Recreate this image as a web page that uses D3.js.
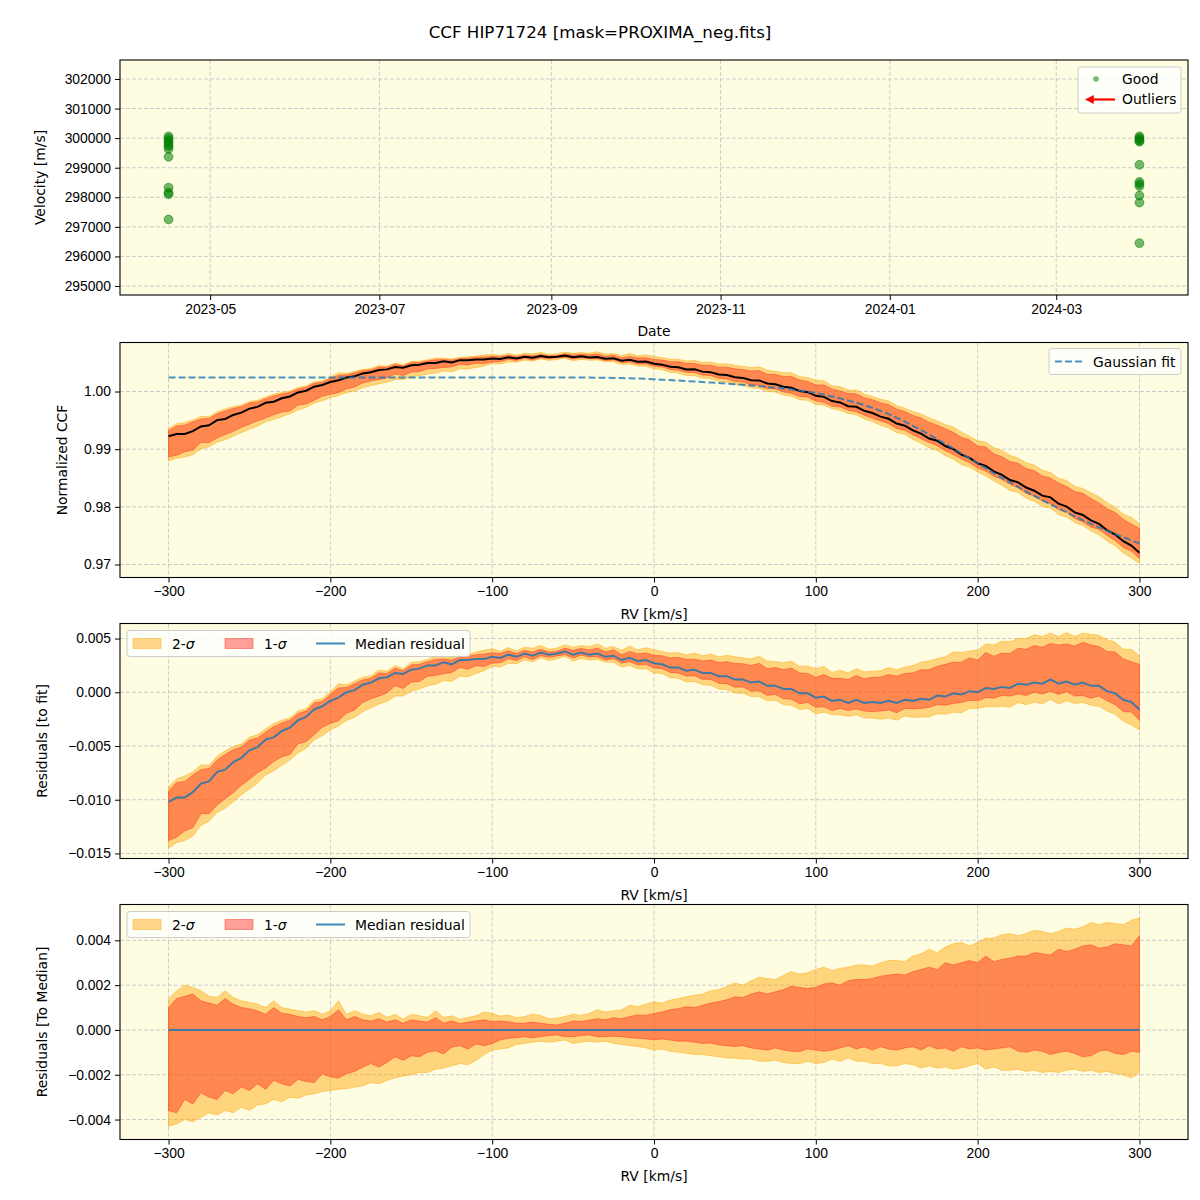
<!DOCTYPE html>
<html>
<head>
<meta charset="utf-8">
<script src="https://cdn.jsdelivr.net/npm/d3@7"></script>
<style>
  body { margin: 0; background: #fff; }
  svg { font-family: "DejaVu Sans", sans-serif; }
  .grid line { stroke: #cccccc; stroke-width: 1; stroke-dasharray: 4,2; }
  .axis path, .axis line { stroke: #000; }
  .axis text { font-size: 13.9px; fill: #000; }
</style>
</head>
<body>
<div class="chart"></div>
<script>
// ---- top panel: velocities per epoch ----
var epochDates = ['2023-04-16', '2024-03-31'];
var velLeft  = [300060, 299990, 299920, 299860, 299790, 299720, 299640, 299370, 298330, 298160, 298100, 297250];
var velRight = [300060, 300010, 299960, 299910, 299880, 299100, 298520, 298450, 298380, 298060, 297820, 296450];
var dateTicks = ['2023-05', '2023-07', '2023-09', '2023-11', '2024-01', '2024-03'];
var velTicks = [295000, 296000, 297000, 298000, 299000, 300000, 301000, 302000];

// ---- RV grid, km/s ----
var rv = d3.range(-300, 301, 5);

// gaussian fit (dashed)
var gaussFit = [
  1.00244, 1.00244, 1.00244, 1.00244, 1.00244, 1.00244, 1.00244, 1.00244, 1.00244, 1.00244,
  1.00244, 1.00244, 1.00244, 1.00244, 1.00244, 1.00244, 1.00244, 1.00244, 1.00244, 1.00244,
  1.00244, 1.00244, 1.00244, 1.00244, 1.00244, 1.00244, 1.00244, 1.00244, 1.00244, 1.00244,
  1.00244, 1.00244, 1.00244, 1.00244, 1.00244, 1.00244, 1.00244, 1.00244, 1.00244, 1.00244,
  1.00244, 1.00244, 1.00244, 1.00244, 1.00244, 1.00244, 1.00244, 1.00244, 1.00244, 1.00244,
  1.00243, 1.00242, 1.00241, 1.00240, 1.00238, 1.00236, 1.00233, 1.00229, 1.00225, 1.00219,
  1.00213, 1.00206, 1.00198, 1.00190, 1.00182, 1.00174, 1.00165, 1.00156, 1.00147, 1.00137,
  1.00127, 1.00116, 1.00105, 1.00093, 1.00080, 1.00066, 1.00052, 1.00036, 1.00018, 0.99998,
  0.99975, 0.99947, 0.99915, 0.99881, 0.99845, 0.99806, 0.99765, 0.99717, 0.99665, 0.99607,
  0.99545, 0.99477, 0.99405, 0.99331, 0.99255, 0.99176, 0.99095, 0.99011, 0.98925, 0.98840,
  0.98755, 0.98670, 0.98585, 0.98504, 0.98425, 0.98345, 0.98265, 0.98189, 0.98115, 0.98045,
  0.97975, 0.97904, 0.97835, 0.97769, 0.97705, 0.97644, 0.97585, 0.97529, 0.97475, 0.97419,
  0.97365
];

// median residual to the fit
var residMedian = [
  -0.0102, -0.0098, -0.0098, -0.0093, -0.0085, -0.0083, -0.0074, -0.0072, -0.0065, -0.0061,
  -0.0054, -0.0051, -0.0044, -0.0042, -0.0036, -0.0033, -0.0026, -0.0023, -0.0016, -0.0013,
  -0.0008, -0.0005, 0.0000, 0.0002, 0.0007, 0.0009, 0.0013, 0.0014, 0.0018, 0.0017,
  0.0021, 0.0022, 0.0025, 0.0025, 0.0028, 0.0026, 0.0030, 0.0030, 0.0031, 0.0031,
  0.0033, 0.0032, 0.0035, 0.0033, 0.0036, 0.0034, 0.0037, 0.0035, 0.0036, 0.0038,
  0.0035, 0.0037, 0.0035, 0.0036, 0.0033, 0.0034, 0.0030, 0.0032, 0.0029, 0.0030,
  0.0027, 0.0026, 0.0023, 0.0023, 0.0020, 0.0021, 0.0018, 0.0018, 0.0015, 0.0015,
  0.0012, 0.0012, 0.0009, 0.0010, 0.0006, 0.0006, 0.0003, 0.0003, -0.0001, -0.0001,
  -0.0005, -0.0004, -0.0008, -0.0007, -0.0010, -0.0007, -0.0010, -0.0009, -0.0010, -0.0008,
  -0.0010, -0.0007, -0.0008, -0.0006, -0.0007, -0.0003, -0.0004, -0.0001, -0.0002, 0.0001,
  0.0000, 0.0004, 0.0003, 0.0005, 0.0004, 0.0008, 0.0007, 0.0009, 0.0008, 0.0012,
  0.0008, 0.0010, 0.0007, 0.0009, 0.0006, 0.0006, 0.0001, -0.0001, -0.0007, -0.0009,
  -0.0016
];

// spread around the median (bottom panel)
var sig2Hi = [
  0.00138, 0.00175, 0.00200, 0.00190, 0.00175, 0.00150, 0.00145, 0.00175, 0.00145, 0.00130,
  0.00123, 0.00115, 0.00100, 0.00130, 0.00100, 0.00093, 0.00086, 0.00080, 0.00086, 0.00070,
  0.00086, 0.00130, 0.00070, 0.00086, 0.00070, 0.00063, 0.00078, 0.00056, 0.00070, 0.00048,
  0.00070, 0.00063, 0.00056, 0.00086, 0.00056, 0.00063, 0.00048, 0.00056, 0.00063, 0.00080,
  0.00074, 0.00062, 0.00067, 0.00055, 0.00060, 0.00070, 0.00065, 0.00050, 0.00052, 0.00060,
  0.00070, 0.00065, 0.00074, 0.00090, 0.00080, 0.00085, 0.00090, 0.00110, 0.00104, 0.00115,
  0.00126, 0.00120, 0.00133, 0.00140, 0.00148, 0.00155, 0.00160, 0.00175, 0.00180, 0.00195,
  0.00210, 0.00200, 0.00220, 0.00235, 0.00230, 0.00225, 0.00244, 0.00260, 0.00250, 0.00255,
  0.00270, 0.00280, 0.00265, 0.00275, 0.00280, 0.00290, 0.00290, 0.00285, 0.00300, 0.00310,
  0.00310, 0.00305, 0.00330, 0.00340, 0.00360, 0.00345, 0.00370, 0.00385, 0.00390, 0.00375,
  0.00390, 0.00410, 0.00410, 0.00425, 0.00430, 0.00420, 0.00430, 0.00445, 0.00440, 0.00430,
  0.00440, 0.00455, 0.00450, 0.00460, 0.00480, 0.00470, 0.00480, 0.00475, 0.00470, 0.00490,
  0.00500
];
var sig1Hi = [
  0.00100, 0.00140, 0.00150, 0.00160, 0.00130, 0.00120, 0.00110, 0.00140, 0.00115, 0.00100,
  0.00095, 0.00085, 0.00070, 0.00100, 0.00075, 0.00070, 0.00060, 0.00055, 0.00060, 0.00045,
  0.00060, 0.00090, 0.00045, 0.00060, 0.00045, 0.00040, 0.00050, 0.00035, 0.00045, 0.00030,
  0.00045, 0.00040, 0.00035, 0.00055, 0.00030, 0.00040, 0.00028, 0.00035, 0.00040, 0.00045,
  0.00037, 0.00040, 0.00037, 0.00030, 0.00030, 0.00035, 0.00030, 0.00025, 0.00022, 0.00030,
  0.00040, 0.00038, 0.00044, 0.00050, 0.00045, 0.00055, 0.00050, 0.00060, 0.00067, 0.00065,
  0.00074, 0.00080, 0.00090, 0.00095, 0.00104, 0.00100, 0.00110, 0.00120, 0.00126, 0.00135,
  0.00148, 0.00145, 0.00160, 0.00170, 0.00160, 0.00170, 0.00180, 0.00195, 0.00190, 0.00185,
  0.00190, 0.00205, 0.00210, 0.00200, 0.00220, 0.00225, 0.00225, 0.00230, 0.00240, 0.00245,
  0.00250, 0.00245, 0.00260, 0.00270, 0.00280, 0.00270, 0.00300, 0.00290, 0.00300, 0.00310,
  0.00300, 0.00330, 0.00305, 0.00315, 0.00320, 0.00330, 0.00330, 0.00345, 0.00340, 0.00335,
  0.00360, 0.00350, 0.00360, 0.00375, 0.00380, 0.00365, 0.00370, 0.00385, 0.00380, 0.00375,
  0.00420
];
var sig1Lo = [
  -0.00360, -0.00370, -0.00310, -0.00330, -0.00280, -0.00300, -0.00310, -0.00270, -0.00285, -0.00255,
  -0.00270, -0.00240, -0.00265, -0.00225, -0.00240, -0.00250, -0.00220, -0.00230, -0.00235, -0.00196,
  -0.00210, -0.00215, -0.00196, -0.00185, -0.00166, -0.00150, -0.00166, -0.00145, -0.00120, -0.00135,
  -0.00115, -0.00120, -0.00100, -0.00093, -0.00107, -0.00077, -0.00070, -0.00085, -0.00063, -0.00070,
  -0.00060, -0.00045, -0.00037, -0.00035, -0.00030, -0.00035, -0.00030, -0.00025, -0.00022, -0.00030,
  -0.00030, -0.00025, -0.00022, -0.00030, -0.00030, -0.00028, -0.00030, -0.00035, -0.00037, -0.00040,
  -0.00044, -0.00040, -0.00045, -0.00050, -0.00050, -0.00055, -0.00060, -0.00058, -0.00067, -0.00070,
  -0.00074, -0.00070, -0.00080, -0.00085, -0.00090, -0.00080, -0.00090, -0.00095, -0.00096, -0.00085,
  -0.00090, -0.00095, -0.00090, -0.00080, -0.00070, -0.00085, -0.00075, -0.00090, -0.00075, -0.00085,
  -0.00090, -0.00080, -0.00075, -0.00090, -0.00070, -0.00085, -0.00080, -0.00095, -0.00075, -0.00085,
  -0.00080, -0.00090, -0.00085, -0.00080, -0.00075, -0.00095, -0.00100, -0.00090, -0.00095, -0.00110,
  -0.00100, -0.00095, -0.00105, -0.00120, -0.00115, -0.00095, -0.00090, -0.00105, -0.00110, -0.00095,
  -0.00100
];
var sig2Lo = [
  -0.00430, -0.00420, -0.00400, -0.00410, -0.00390, -0.00370, -0.00380, -0.00360, -0.00370, -0.00345,
  -0.00360, -0.00335, -0.00330, -0.00310, -0.00320, -0.00300, -0.00305, -0.00290, -0.00285, -0.00275,
  -0.00270, -0.00265, -0.00262, -0.00255, -0.00250, -0.00235, -0.00240, -0.00225, -0.00215, -0.00205,
  -0.00200, -0.00190, -0.00190, -0.00175, -0.00170, -0.00160, -0.00150, -0.00155, -0.00136, -0.00110,
  -0.00090, -0.00085, -0.00080, -0.00065, -0.00060, -0.00055, -0.00050, -0.00055, -0.00050, -0.00045,
  -0.00060, -0.00055, -0.00050, -0.00055, -0.00050, -0.00060, -0.00065, -0.00070, -0.00074, -0.00080,
  -0.00090, -0.00085, -0.00095, -0.00100, -0.00104, -0.00110, -0.00110, -0.00115, -0.00120, -0.00125,
  -0.00126, -0.00130, -0.00130, -0.00140, -0.00140, -0.00135, -0.00145, -0.00150, -0.00150, -0.00140,
  -0.00150, -0.00145, -0.00130, -0.00140, -0.00125, -0.00140, -0.00140, -0.00150, -0.00150, -0.00160,
  -0.00160, -0.00150, -0.00155, -0.00170, -0.00160, -0.00170, -0.00165, -0.00175, -0.00170, -0.00160,
  -0.00150, -0.00175, -0.00165, -0.00180, -0.00180, -0.00175, -0.00185, -0.00180, -0.00190, -0.00185,
  -0.00190, -0.00180, -0.00175, -0.00185, -0.00180, -0.00190, -0.00185, -0.00195, -0.00200, -0.00215,
  -0.00190
];

var rvTicks = [-300, -200, -100, 0, 100, 200, 300];

function init() {
  var width = 1200,
      height = 1200,
      plot = { x1: 120, x2: 1188 },
      panelTops = [60, 342.5, 623.5, 904.5],
      panelH = 235,
      colors = {
        bg: '#fefde2',
        sig2: '#ffa500',
        sig1: '#ff2a1a',
        good: 'green',
        blue: '#1f77b4'
      };

  var svg = d3.select('.chart')
    .append('svg')
      .attr('width', width)
      .attr('height', height);

  svg.append('text')
    .attr('x', 600)
    .attr('y', 38)
    .attr('text-anchor', 'middle')
    .style('font-size', '16.7px')
    .text('CCF HIP71724 [mask=PROXIMA_neg.fits]');

  var defs = svg.append('defs');
  defs.append('marker')
      .attr('id', 'arrowhead')
      .attr('viewBox', '0 0 10 10')
      .attr('refX', 2).attr('refY', 5)
      .attr('markerWidth', 4).attr('markerHeight', 4)
      .attr('orient', 'auto-start-reverse')
    .append('path')
      .attr('d', 'M0,0 L10,5 L0,10 z')
      .attr('fill', 'red');

  function makePanel(i, xScale, yScale, xTicks, yTicks, xFmt, yFmt, xLabel, yLabel, yLabelX) {
    var top = panelTops[i];
    var g = svg.append('g');

    g.append('rect')
      .attr('x', plot.x1).attr('y', top)
      .attr('width', plot.x2 - plot.x1).attr('height', panelH)
      .attr('fill', colors.bg);

    var grid = g.append('g').attr('class', 'grid');
    grid.selectAll('line.gx').data(xTicks).enter()
      .append('line')
        .attr('x1', function(d) { return xScale(d); })
        .attr('x2', function(d) { return xScale(d); })
        .attr('y1', top).attr('y2', top + panelH);
    grid.selectAll('line.gy').data(yTicks).enter()
      .append('line')
        .attr('x1', plot.x1).attr('x2', plot.x2)
        .attr('y1', function(d) { return yScale(d); })
        .attr('y2', function(d) { return yScale(d); });

    var content = g.append('g');

    var frame = g.append('g');
    frame.append('g')
      .attr('class', 'axis')
      .attr('transform', 'translate(0,' + (top + panelH) + ')')
      .call(d3.axisBottom(xScale).tickValues(xTicks).tickFormat(xFmt).tickSizeOuter(0).tickSize(5).tickPadding(4));
    frame.append('g')
      .attr('class', 'axis')
      .attr('transform', 'translate(' + plot.x1 + ',0)')
      .call(d3.axisLeft(yScale).tickValues(yTicks).tickFormat(yFmt).tickSizeOuter(0).tickSize(5).tickPadding(4));
    frame.selectAll('.axis path').remove();
    frame.append('rect')
      .attr('x', plot.x1).attr('y', top)
      .attr('width', plot.x2 - plot.x1).attr('height', panelH)
      .attr('fill', 'none').attr('stroke', '#000').attr('stroke-width', 1.1);

    g.append('text')
      .attr('x', (plot.x1 + plot.x2) / 2)
      .attr('y', top + panelH + 41)
      .attr('text-anchor', 'middle')
      .style('font-size', '13.9px')
      .text(xLabel);
    g.append('text')
      .attr('transform', 'translate(' + yLabelX + ',' + (top + panelH / 2) + ') rotate(-90)')
      .attr('text-anchor', 'middle')
      .style('font-size', '13.9px')
      .text(yLabel);

    return { g: g, content: content, top: top };
  }

  // ---------- panel 1: velocities ----------
  var parseDay = d3.utcParse('%Y-%m-%d'),
      parseMonth = d3.utcParse('%Y-%m');
  var t0 = parseDay(epochDates[0]), t1 = parseDay(epochDates[1]);
  var pad = (t1 - t0) * 0.05;
  var xDate = d3.scaleUtc()
    .domain([new Date(+t0 - pad), new Date(+t1 + pad)])
    .range([plot.x1, plot.x2]);
  var yVel = d3.scaleLinear()
    .domain([294696, 302642])
    .range([panelTops[0] + panelH, panelTops[0]]);

  var p1 = makePanel(0, xDate, yVel, dateTicks.map(function(d) { return parseMonth(d); }), velTicks,
    d3.utcFormat('%Y-%m'), d3.format('d'), 'Date', 'Velocity [m/s]', 45);

  var points = velLeft.map(function(v) { return { t: t0, v: v }; })
    .concat(velRight.map(function(v) { return { t: t1, v: v }; }));
  p1.content.selectAll('circle').data(points).enter()
    .append('circle')
      .attr('cx', function(d) { return xDate(d.t); })
      .attr('cy', function(d) { return yVel(d.v); })
      .attr('r', 4.4)
      .attr('fill', colors.good)
      .attr('fill-opacity', 0.55)
      .attr('stroke', colors.good)
      .attr('stroke-opacity', 0.55)
      .attr('stroke-width', 1);

  var leg1 = p1.g.append('g');
  leg1.append('rect')
    .attr('x', 1078).attr('y', 67).attr('width', 103).attr('height', 46).attr('rx', 3)
    .attr('fill', '#fff').attr('fill-opacity', 0.8).attr('stroke', '#cccccc');
  leg1.append('circle')
    .attr('cx', 1096).attr('cy', 79).attr('r', 2.8)
    .attr('fill', colors.good).attr('fill-opacity', 0.55);
  leg1.append('text').attr('x', 1122).attr('y', 84).style('font-size', '13.9px').text('Good');
  leg1.append('line')
    .attr('x1', 1115).attr('y1', 99.5).attr('x2', 1092).attr('y2', 99.5)
    .attr('stroke', 'red').attr('stroke-width', 2.2)
    .attr('marker-end', 'url(#arrowhead)');
  leg1.append('text').attr('x', 1122).attr('y', 104).style('font-size', '13.9px').text('Outliers');

  // ---------- shared RV scale ----------
  var xRV = d3.scaleLinear().domain([-330, 330]).range([plot.x1, plot.x2]);
  var minusFmt = function(f) { return function(d) { return d3.format(f)(d); }; };

  function drawBands(content, yScale, base) {
    var area2 = d3.area()
      .x(function(d, i) { return xRV(rv[i]); })
      .y0(function(d, i) { return yScale(base[i] + sig2Lo[i]); })
      .y1(function(d, i) { return yScale(base[i] + sig2Hi[i]); });
    var area1 = d3.area()
      .x(function(d, i) { return xRV(rv[i]); })
      .y0(function(d, i) { return yScale(base[i] + sig1Lo[i]); })
      .y1(function(d, i) { return yScale(base[i] + sig1Hi[i]); });
    content.append('path').datum(rv)
      .attr('d', area2)
      .attr('fill', colors.sig2).attr('fill-opacity', 0.45)
      .attr('stroke', colors.sig2).attr('stroke-opacity', 0.45).attr('stroke-width', 1);
    content.append('path').datum(rv)
      .attr('d', area1)
      .attr('fill', colors.sig1).attr('fill-opacity', 0.45)
      .attr('stroke', colors.sig1).attr('stroke-opacity', 0.45).attr('stroke-width', 1);
  }

  function lineOf(yScale, vals) {
    return d3.line()
      .x(function(d, i) { return xRV(rv[i]); })
      .y(function(d, i) { return yScale(vals[i]); })(rv);
  }

  function bandLegend(g, top) {
    var leg = g.append('g');
    leg.append('rect')
      .attr('x', 127).attr('y', top + 7).attr('width', 343).attr('height', 26).attr('rx', 3)
      .attr('fill', '#fff').attr('fill-opacity', 0.8).attr('stroke', '#cccccc');
    leg.append('rect')
      .attr('x', 133).attr('y', top + 15).attr('width', 28).attr('height', 10)
      .attr('fill', colors.sig2).attr('fill-opacity', 0.45)
      .attr('stroke', colors.sig2).attr('stroke-opacity', 0.45);
    leg.append('rect')
      .attr('x', 225).attr('y', top + 15).attr('width', 28).attr('height', 10)
      .attr('fill', colors.sig1).attr('fill-opacity', 0.45)
      .attr('stroke', colors.sig1).attr('stroke-opacity', 0.45);
    leg.append('line')
      .attr('x1', 316).attr('x2', 345).attr('y1', top + 20).attr('y2', top + 20)
      .attr('stroke', colors.blue).attr('stroke-width', 2).attr('stroke-opacity', 0.85);
    [[172, '2-'], [264, '1-']].forEach(function(p) {
      var t = leg.append('text').attr('x', p[0]).attr('y', top + 25).style('font-size', '13.9px');
      t.append('tspan').text(p[1]);
      t.append('tspan').style('font-style', 'italic').text('σ');
    });
    leg.append('text').attr('x', 355).attr('y', top + 25).style('font-size', '13.9px').text('Median residual');
  }

  // ---------- panel 2: CCF ----------
  var ccfMedian = gaussFit.map(function(f, i) { return f + residMedian[i]; });
  var yCCF = d3.scaleLinear().domain([0.96775, 1.0085]).range([panelTops[1] + panelH, panelTops[1]]);
  var p2 = makePanel(1, xRV, yCCF, rvTicks, [0.97, 0.98, 0.99, 1.00],
    minusFmt('d'), d3.format('.2f'), 'RV [km/s]', 'Normalized CCF', 67);
  drawBands(p2.content, yCCF, ccfMedian);
  p2.content.append('path')
    .attr('d', lineOf(yCCF, ccfMedian))
    .attr('fill', 'none').attr('stroke', '#000').attr('stroke-width', 2);
  p2.content.append('path')
    .attr('d', lineOf(yCCF, gaussFit))
    .attr('fill', 'none').attr('stroke', colors.blue).attr('stroke-opacity', 0.8)
    .attr('stroke-width', 2).attr('stroke-dasharray', '7,3');

  var leg2 = p2.g.append('g');
  leg2.append('rect')
    .attr('x', 1049).attr('y', p2.top + 6).attr('width', 132).attr('height', 26).attr('rx', 3)
    .attr('fill', '#fff').attr('fill-opacity', 0.8).attr('stroke', '#cccccc');
  leg2.append('line')
    .attr('x1', 1055).attr('x2', 1084).attr('y1', p2.top + 19).attr('y2', p2.top + 19)
    .attr('stroke', colors.blue).attr('stroke-opacity', 0.8).attr('stroke-width', 2)
    .attr('stroke-dasharray', '7,3');
  leg2.append('text').attr('x', 1093).attr('y', p2.top + 24).style('font-size', '13.9px').text('Gaussian fit');

  // ---------- panel 3: residuals to fit ----------
  var yRes = d3.scaleLinear().domain([-0.01547, 0.0064]).range([panelTops[2] + panelH, panelTops[2]]);
  var p3 = makePanel(2, xRV, yRes, rvTicks, [-0.015, -0.010, -0.005, 0.000, 0.005],
    minusFmt('d'), d3.format('.3f'), 'RV [km/s]', 'Residuals [to fit]', 47);
  drawBands(p3.content, yRes, residMedian);
  p3.content.append('path')
    .attr('d', lineOf(yRes, residMedian))
    .attr('fill', 'none').attr('stroke', colors.blue).attr('stroke-opacity', 0.85).attr('stroke-width', 2);
  bandLegend(p3.g, p3.top);

  // ---------- panel 4: residuals to median ----------
  var zeros = rv.map(function() { return 0; });
  var yMed = d3.scaleLinear().domain([-0.00489, 0.0056]).range([panelTops[3] + panelH, panelTops[3]]);
  var p4 = makePanel(3, xRV, yMed, rvTicks, [-0.004, -0.002, 0.000, 0.002, 0.004],
    minusFmt('d'), d3.format('.3f'), 'RV [km/s]', 'Residuals [To Median]', 47);
  drawBands(p4.content, yMed, zeros);
  p4.content.append('path')
    .attr('d', lineOf(yMed, zeros))
    .attr('fill', 'none').attr('stroke', colors.blue).attr('stroke-opacity', 0.85).attr('stroke-width', 2);
  bandLegend(p4.g, p4.top);
}

init();
</script>
</body>
</html>
